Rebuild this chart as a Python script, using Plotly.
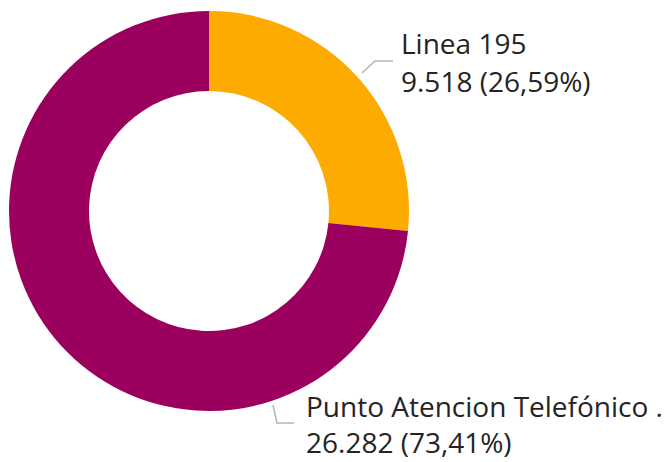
import math
import plotly.graph_objects as go

# ---- data ----
categories = ["Linea 195", "Punto Atencion Telefónico ."]
values = [9518, 26282]
colors = ["#FDAB00", "#9B005F"]

W, H = 667, 462
total = sum(values)

def fmt_num(v):
    return f"{v:,}".replace(",", ".")

def fmt_pct(v):
    return f"{100 * v / total:.2f}".replace(".", ",") + "%"

def px(x):
    return x / W

def py(y):
    return 1 - y / H

fig = go.Figure()
fig.add_trace(go.Pie(
    labels=categories,
    values=values,
    hole=0.6,
    sort=False,
    direction="clockwise",
    rotation=0,
    marker=dict(colors=colors, line=dict(width=0)),
    textinfo="none",
    hoverinfo="label+value+percent",
    showlegend=False,
    domain=dict(x=[px(9), px(409)], y=[py(411), py(11)]),
))

# label placement (pixel styles)
label_layout = [
    dict(path=[(362, 73), (375, 61), (393, 61)], tx=400, ty1=43, ty2=81),
    dict(path=[(273, 405), (277, 423), (294, 423)], tx=305, ty1=406, ty2=442),
]
font = dict(family="Open Sans, Segoe UI, sans-serif", size=28, color="#252423")

shapes = []
annotations = []
for cat, val, lay in zip(categories, values, label_layout):
    pts = lay["path"]
    path = "M " + " L ".join(f"{px(x)},{py(y)}" for x, y in pts)
    shapes.append(dict(type="path", xref="paper", yref="paper", path=path,
                       line=dict(color="#B5B5B5", width=1.5)))
    annotations.append(dict(x=px(lay["tx"]), y=py(lay["ty1"]), xref="paper", yref="paper",
                            text=cat, showarrow=False, xanchor="left", yanchor="middle",
                            font=font, borderpad=0))
    annotations.append(dict(x=px(lay["tx"]), y=py(lay["ty2"]), xref="paper", yref="paper",
                            text=f"{fmt_num(val)} ({fmt_pct(val)})", showarrow=False,
                            xanchor="left", yanchor="middle", font=font, borderpad=0))

fig.update_layout(
    width=W, height=H,
    margin=dict(l=0, r=0, t=0, b=0),
    paper_bgcolor="white", plot_bgcolor="white",
    shapes=shapes, annotations=annotations,
)

fig.write_html("out.html")
